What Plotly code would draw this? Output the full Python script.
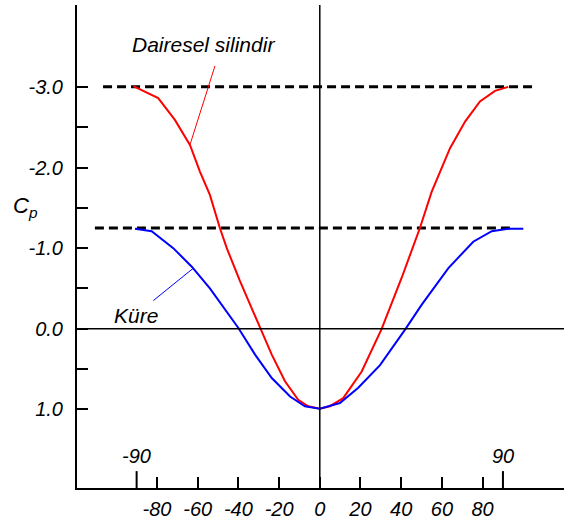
import plotly.graph_objects as go

# Circular cylinder (Dairesel silindir) pressure coefficient
cyl_theta = [-91.6, -79.4, -71.2, -63.8, -58.9, -54.0, -49.1, -45.7, -39.2, -33.5, -28.6,
             -23.6, -17.1, -10.6, -5.7, 0.0, 5.0, 11.5, 20.6, 30.4, 40.2, 49.2, 55.0,
             64.0, 71.4, 78.7, 86.1, 92.6]
cyl_cp = [-3.01, -2.86, -2.59, -2.28, -1.95, -1.66, -1.25, -1.00, -0.59, -0.26, 0.01,
          0.32, 0.65, 0.88, 0.96, 0.99, 0.96, 0.86, 0.53, 0.0, -0.63, -1.25, -1.70,
          -2.24, -2.57, -2.82, -2.95, -3.0]

# Sphere (Küre)
sph_theta = [-90.8, -82.6, -72.0, -62.9, -54.0, -45.7, -40.0, -31.8, -23.6, -14.6, -7.3,
             0.0, 9.9, 18.9, 29.6, 41.9, 50.1, 63.1, 75.4, 84.5, 92.6, 100.0]
sph_cp = [-1.24, -1.21, -1.00, -0.77, -0.50, -0.21, -0.01, 0.32, 0.61, 0.84, 0.96,
          0.99, 0.92, 0.73, 0.45, 0.01, -0.30, -0.75, -1.08, -1.21, -1.24, -1.24]

# asymptote (dashed) levels
dash_cyl_x = [-106.5, 104.8]
dash_cyl_y = [-3.0, -3.0]
dash_sph_x = [-110.5, 94.4]
dash_sph_y = [-1.25, -1.25]

x_ticks = [-80, -60, -40, -20, 0, 20, 40, 60, 80]
x_ticktext = ["-80", "-60", "-40", "-20", "0", "20", "40", "60", "80"]
y_ticks = [-3.0, -2.0, -1.0, 0.0, 1.0]
y_ticktext = ["-3.0", "-2.0", "-1.0", "0.0", "1.0"]
y_minor_ticks = [-2.5, -1.5, -0.5, 0.5]
extra_x_ticks = [-90, 90]

XR = [-119.3, 120.0]
YR = [1.974, -4.015]

fig = go.Figure()

fig.add_trace(go.Scatter(x=dash_cyl_x, y=dash_cyl_y, mode="lines",
                         line=dict(color="black", width=3, dash="9px,5px"),
                         showlegend=False, hoverinfo="skip"))
fig.add_trace(go.Scatter(x=dash_sph_x, y=dash_sph_y, mode="lines",
                         line=dict(color="black", width=3, dash="9px,5px"),
                         showlegend=False, hoverinfo="skip"))
fig.add_trace(go.Scatter(x=cyl_theta, y=cyl_cp, mode="lines",
                         line=dict(color="#ff0000", width=2), name="Dairesel silindir",
                         showlegend=False))
fig.add_trace(go.Scatter(x=sph_theta, y=sph_cp, mode="lines",
                         line=dict(color="#0000ff", width=2), name="Küre",
                         showlegend=False))

# leader lines
fig.add_trace(go.Scatter(x=[-51.5, -63.8], y=[-3.26, -2.28], mode="lines",
                         line=dict(color="#ff0000", width=1), showlegend=False, hoverinfo="skip"))
fig.add_trace(go.Scatter(x=[-62.2, -81.8], y=[-0.75, -0.35], mode="lines",
                         line=dict(color="#0000ff", width=1), showlegend=False, hoverinfo="skip"))

shapes = [
    dict(type="line", xref="paper", yref="y", x0=0, x1=1, y0=0, y1=0,
         line=dict(color="black", width=1.5)),
    dict(type="line", xref="x", yref="paper", x0=0, x1=0, y0=0, y1=1,
         line=dict(color="black", width=1.5)),
]
for xv in extra_x_ticks:
    shapes.append(dict(type="line", xref="x", yref="paper", x0=xv, x1=xv, y0=0, y1=0.035,
                       line=dict(color="black", width=2)))

annotations = [
    dict(x=-56.9, y=-3.52, xref="x", yref="y", text="<i>Dairesel silindir</i>",
         showarrow=False, font=dict(size=21, color="black")),
    dict(x=-90.1, y=-0.17, xref="x", yref="y", text="<i>Küre</i>",
         showarrow=False, font=dict(size=21, color="black")),
    dict(x=(25 - 77) / 487.0, y=(488 - 207) / 483.0, xref="paper", yref="paper",
         text="<i>C<sub>p</sub></i>", xanchor="center", yanchor="middle",
         showarrow=False, font=dict(size=22, color="black")),
]
for xv in extra_x_ticks:
    annotations.append(dict(x=xv, y=0.04, xref="x", yref="paper", text="<i>%d</i>" % xv,
                            showarrow=False, yanchor="bottom",
                            font=dict(size=20, color="black")))

fig.update_layout(
    width=564, height=520,
    margin=dict(l=77, r=0, t=5, b=32),
    paper_bgcolor="white", plot_bgcolor="white",
    font=dict(family="Liberation Sans, Arial, sans-serif", color="black"),
    shapes=shapes, annotations=annotations,
    xaxis=dict(range=XR, showgrid=False, zeroline=False, showline=True,
               linecolor="black", linewidth=2, ticks="inside", ticklen=11,
               tickwidth=2, tickcolor="black", tickvals=x_ticks, ticktext=x_ticktext,
               tickfont=dict(size=20, style="italic"), ticklabelstandoff=2),
    yaxis=dict(range=YR, showgrid=False, zeroline=False, showline=True,
               linecolor="black", linewidth=2, ticks="inside", ticklen=11,
               tickwidth=2, tickcolor="black", tickvals=y_ticks, ticktext=y_ticktext,
               tickfont=dict(size=20, style="italic"), ticklabelstandoff=8,
               minor=dict(tickmode="array", tickvals=y_minor_ticks, ticks="inside",
                          ticklen=11, tickwidth=2, tickcolor="black", showgrid=False)),
    showlegend=False,
)

fig.write_html("out.html", config={"displayModeBar": False},
               post_script="document.body.style.margin='0';")
